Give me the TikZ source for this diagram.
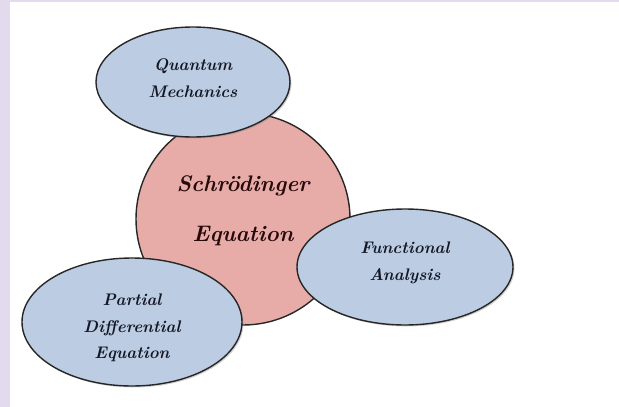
\documentclass[tikz,border=0pt]{standalone}
\usepackage{tikz}
\usetikzlibrary{shapes.geometric,shadows}
\definecolor{topicblue}{RGB}{188,204,226}
\definecolor{corepink}{RGB}{232,172,168}
\definecolor{framelav}{RGB}{228,218,238}
\definecolor{inkblue}{RGB}{20,24,38}
\definecolor{inkred}{RGB}{38,10,12}
\tikzset{
    topic/.style={
        ellipse,
        draw=black!85,
        line width=1.4pt,
        fill=topicblue,
        inner sep=0pt,
        drop shadow={opacity=0.35, shadow xshift=1.5pt, shadow yshift=-1.5pt}
    },
    core/.style={
        ellipse,
        draw=black!85,
        line width=1.4pt,
        fill=corepink,
        inner sep=0pt
    },
    topictext/.style={
        align=center,
        text=inkblue,
        font=\fontsize{16.8}{26.5}\selectfont\bfseries\itshape
    },
    coretext/.style={
        align=center,
        text=inkred,
        font=\fontsize{22.5}{50}\selectfont\bfseries\itshape
    }
}

\begin{document}
\begin{tikzpicture}[x=1pt, y=-1pt]
    % page and frame
    \useasboundingbox (0,0) rectangle (619,407);
    \fill[white] (0,0) rectangle (619,407);
    \fill[framelav] (0,0) rectangle (10,407);
    \fill[framelav] (0,0) rectangle (619,2);

    \node (schrodinger) [core, minimum width=214pt, minimum height=212pt,
        label={[coretext, yshift=8pt]center:{Schr\"odinger\\Equation}}] at (243,219) {};
    \node (quantum) [topic, minimum width=194pt, minimum height=110pt,
        label={[topictext, yshift=4pt]center:{Quantum\\Mechanics}}] at (193,82) {};
    \node (functional) [topic, minimum width=216pt, minimum height=116pt,
        label={[topictext, yshift=4pt]center:{Functional\\Analysis}}] at (405,267) {};
    \node (pde) [topic, minimum width=220pt, minimum height=128pt,
        label={[topictext, yshift=-6pt]center:{Partial\\Differential\\Equation}}] at (132,322) {};
\end{tikzpicture}
\end{document}
